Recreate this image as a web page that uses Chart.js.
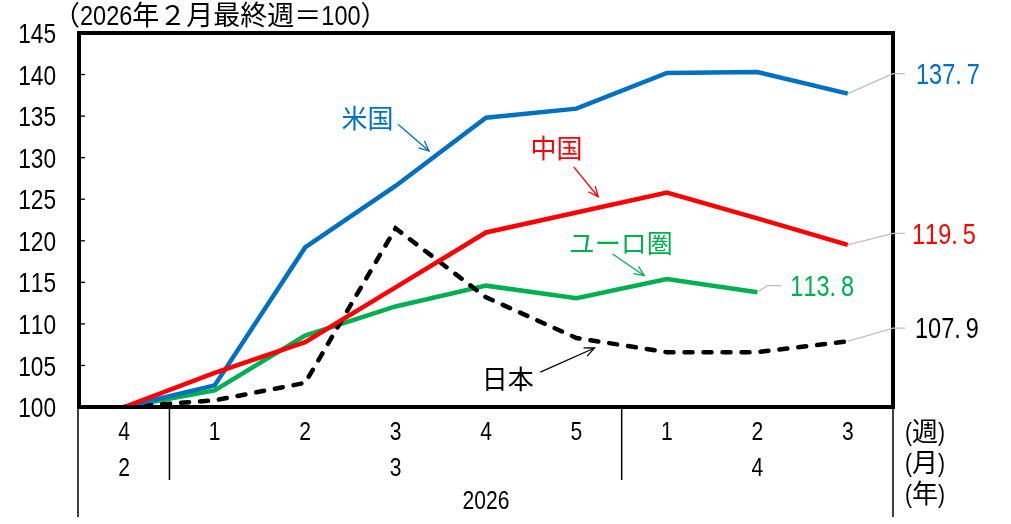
<!DOCTYPE html>
<html><head><meta charset="utf-8">
<script src="https://cdn.jsdelivr.net/npm/chart.js@4/dist/chart.umd.min.js"></script>
<style>html,body{margin:0;padding:0;background:#fff}#wrap{width:1011px;height:524px}</style>
</head><body><div id="wrap"><canvas id="c" width="1011" height="524"></canvas></div>
<script>
const weekLabels = ['4','1','2','3','4','5','1','2','3'];
const monthLabels = ['2','3','3','3','3','3','4','4','4'];
const yearLabels = ['2026','2026','2026','2026','2026','2026','2026','2026','2026'];
const unitLabels = ['(週)','(月)','(年)'];
const titleText = '（2026年２月最終週＝100）';
const usValues    = [100, 102.6, 119.2, 126.6, 134.8, 135.9, 140.2, 140.3, 137.7];
const chinaValues = [100, 104.1, 107.8, 114.4, 121.0, 123.4, 125.8, 122.7, 119.5];
const euroValues  = [100, 102.0, 108.6, 112.1, 114.6, 113.1, 115.4, 113.8, null];
const japanValues = [100, 100.8, 102.9, 121.5, 113.2, 108.3, 106.6, 106.6, 107.9];
const seriesNames = ['米国','中国','ユーロ圏','日本'];
const endLabels = ['137.7','119.5','113.8','107.9'];

const LAT = "'Liberation Sans','Arimo',sans-serif";
const JP = "'Noto Sans CJK JP',sans-serif";
const C = {us:'#0070C0', cn:'#FF0000', eu:'#00B050', jp:'#000000'};
const SX = 0.81;

// annotations in data space: [xIndex, value]
const notes = [
  {text:seriesNames[0], color:C.us, at:[2.69,134.8], from:[3.03,134.0], to:[3.37,130.8]},
  {text:seriesNames[1], color:C.cn, at:[4.78,131.1], from:[4.97,128.9], to:[5.24,125.3]},
  {text:seriesNames[2], color:C.eu, at:[5.49,119.7], from:[5.40,118.4], to:[5.75,115.8]},
  {text:seriesNames[3], color:C.jp, at:[4.24,103.4], from:[4.60,104.2], to:[5.20,107.1]}
];
const ends = [
  {idx:8, v:usValues[8], lv:140.1, color:C.us, text:endLabels[0], right:true, dx:23},
  {idx:8, v:chinaValues[8], lv:120.9, color:C.cn, text:endLabels[1], right:true, dx:19},
  {idx:7, v:euroValues[7], lv:114.6, color:C.eu, text:endLabels[2], right:false, dx:33},
  {idx:8, v:japanValues[8], lv:109.5, color:C.jp, text:endLabels[3], right:true, dx:22}
];

// draw text: ASCII runs in a horizontally condensed Latin font, other runs in CJK font
function drawMixed(ctx, text, x, yc, o){
  const size = o.size, cjk = o.cjk || size, sx = o.sx || SX, gap = o.dotGap || 0;
  const items = [];
  for (const ch of text){
    const ascii = ch.charCodeAt(0) < 128;
    ctx.font = ascii ? size + 'px ' + LAT : cjk + 'px ' + JP;
    let w = ctx.measureText(ch).width * (ascii ? sx : 1);
    if (ch === '.') w += gap;
    items.push({ch, ascii, w});
  }
  const total = items.reduce((s,i) => s + i.w, 0);
  let cx = o.align === 'center' ? x - total/2 : o.align === 'right' ? x - total : x;
  const base = yc + 0.36*size;
  ctx.save();
  ctx.fillStyle = o.color || '#000';
  ctx.textAlign = 'left'; ctx.textBaseline = 'alphabetic';
  for (const it of items){
    ctx.font = it.ascii ? size + 'px ' + LAT : cjk + 'px ' + JP;
    ctx.save();
    ctx.translate(cx, base);
    if (it.ascii) ctx.scale(sx, 1);
    ctx.fillText(it.ch, 0, 0);
    ctx.restore();
    cx += it.w;
  }
  ctx.restore();
}

function arrow(ctx, x1, y1, x2, y2, color){
  ctx.save();
  ctx.strokeStyle = color; ctx.lineWidth = 1.3;
  ctx.beginPath(); ctx.moveTo(x1,y1); ctx.lineTo(x2,y2); ctx.stroke();
  const a = Math.atan2(y2-y1, x2-x1), L = 11, w = 0.42;
  ctx.beginPath();
  ctx.moveTo(x2 - L*Math.cos(a-w), y2 - L*Math.sin(a-w));
  ctx.lineTo(x2, y2);
  ctx.lineTo(x2 - L*Math.cos(a+w), y2 - L*Math.sin(a+w));
  ctx.stroke();
  ctx.restore();
}

const decor = {
  id:'decor',
  afterDraw(chart){
    const ctx = chart.ctx, a = chart.chartArea;
    const xs = chart.scales.x, ys = chart.scales.y;
    const px = i => xs.getPixelForValue(i);
    ctx.save();
    // frame
    ctx.strokeStyle = '#000'; ctx.lineWidth = 4;
    ctx.strokeRect(a.left, a.top, a.right-a.left, a.bottom-a.top);
    // inner ticks + y labels
    ctx.lineWidth = 1.3;
    ys.ticks.forEach(t => {
      const y = ys.getPixelForValue(t.value);
      if (t.value > ys.min && t.value < ys.max){
        ctx.beginPath(); ctx.moveTo(a.left, y); ctx.lineTo(a.left+6, y); ctx.stroke();
      }
      drawMixed(ctx, String(t.value), 56, y, {size:28, align:'right'});
    });
    // separators
    ctx.lineWidth = 1.5;
    const sep = (x, y2) => { ctx.beginPath(); ctx.moveTo(x, a.bottom); ctx.lineTo(x, y2); ctx.stroke(); };
    sep(a.left-1, 517); sep(a.right, 517);
    for (let i = 1; i < monthLabels.length; i++){
      if (monthLabels[i] !== monthLabels[i-1]) sep((px(i-1)+px(i))/2, 480);
    }
    // x labels
    weekLabels.forEach((t,i) => drawMixed(ctx, t, px(i), 431, {size:26, align:'center'}));
    const groups = (arr, yc) => {
      let s = 0;
      for (let i = 1; i <= arr.length; i++){
        if (i === arr.length || arr[i] !== arr[s]){
          drawMixed(ctx, arr[s], (px(s)+px(i-1))/2, yc, {size:26, align:'center'});
          s = i;
        }
      }
    };
    groups(monthLabels, 467);
    groups(yearLabels, 500);
    unitLabels.forEach((t,i) => drawMixed(ctx, t, 905, 432 + i*31, {size:26, cjk:26, align:'left'}));
    // title
    drawMixed(ctx, titleText, 53, 15, {size:28, cjk:27, sx:0.84, align:'left'});
    // end labels with leader lines
    ends.forEach(e => {
      const x0 = px(e.idx), y0 = ys.getPixelForValue(e.v), yl = ys.getPixelForValue(e.lv);
      ctx.strokeStyle = '#BFBFBF'; ctx.lineWidth = 1.3;
      ctx.beginPath();
      let xe;
      if (e.right){
        ctx.moveTo(x0, y0); ctx.lineTo(a.right, yl); ctx.lineTo(a.right+12, yl); xe = a.right;
      } else {
        ctx.moveTo(x0, y0); ctx.lineTo(x0+10, yl); ctx.lineTo(x0+24, yl); xe = x0;
      }
      ctx.stroke();
      drawMixed(ctx, e.text, xe + e.dx, yl, {size:29, align:'left', color:e.color, dotGap:5});
    });
    // annotations
    notes.forEach(n => {
      const pt = p => [px(p[0]), ys.getPixelForValue(p[1])];
      const [tx, ty] = pt(n.at);
      ctx.fillStyle = n.color; ctx.font = '26px ' + JP; ctx.textAlign = 'center'; ctx.textBaseline = 'middle';
      ctx.fillText(n.text, tx, ty);
      const [x1,y1] = pt(n.from), [x2,y2] = pt(n.to);
      arrow(ctx, x1, y1, x2, y2, n.color);
    });
    ctx.restore();
  }
};

new Chart(document.getElementById('c'), {
  type:'line',
  data:{
    labels: weekLabels.map((w,i) => i),
    datasets:[
      {label:seriesNames[1], data:chinaValues, borderColor:C.cn, order:0},
      {label:seriesNames[0], data:usValues, borderColor:C.us, order:1},
      {label:seriesNames[3], data:japanValues, borderColor:C.jp, borderDash:[8,11], borderCapStyle:'round', order:2},
      {label:seriesNames[2], data:euroValues, borderColor:C.eu, order:3}
    ].map(d => Object.assign({borderWidth:4.5, pointRadius:0, tension:0, fill:false, spanGaps:false}, d))
  },
  options:{
    responsive:false, animation:false, devicePixelRatio:1,
    layout:{padding:{top:33, right:118, left:0, bottom:0}},
    plugins:{legend:{display:false}, tooltip:{enabled:false}, title:{display:false}},
    scales:{
      x:{type:'category', offset:true, grid:{display:false}, border:{display:false},
         ticks:{display:false}, afterFit(s){ s.height = 117; }},
      y:{min:100, max:145, grid:{display:false, drawTicks:false}, border:{display:false},
         ticks:{stepSize:5, display:false},
         afterFit(s){ s.width = 79; }}
    }
  },
  plugins:[decor]
});
</script></body></html>
